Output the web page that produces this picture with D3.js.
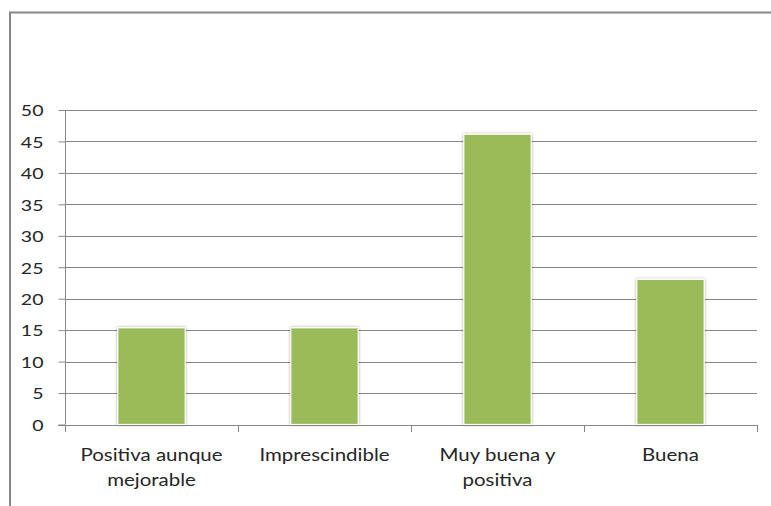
<!DOCTYPE html>
<html>
<head>
<meta charset="utf-8">
<script src="https://cdn.jsdelivr.net/npm/d3@7/dist/d3.min.js"></script>
<style>
  html, body { margin: 0; padding: 0; background: #fff; }
  svg { display: block; }
  text { font-family: Lato, "Open Sans", sans-serif; fill: #262626; }
</style>
</head>
<body>
<svg id="chart" width="771" height="506"></svg>
<script>
// Opinion categories (two-line labels split on "|") and their percentages
const categories = ["Positiva aunque|mejorable", "Imprescindible", "Muy buena y|positiva", "Buena"];
const values = [15.38, 15.38, 46.15, 23.08];
const yTicks = [0, 5, 10, 15, 20, 25, 30, 35, 40, 45, 50];

const svg = d3.select("#chart");
const W = 771, H = 506;
const plot = { left: 65, right: 757, top: 110, bottom: 424.5 };
const stretch = 1.17; // wide-set lettering

// Outer chart frame (runs off the right and bottom edges)
svg.append("rect")
  .attr("x", 10).attr("y", 12.5)
  .attr("width", W + 20).attr("height", H + 20)
  .attr("fill", "#fff")
  .attr("stroke", "#878787").attr("stroke-width", 2);

const defs = svg.append("defs");
const f = defs.append("filter").attr("id", "barShadow")
  .attr("x", "-20%").attr("y", "-10%").attr("width", "140%").attr("height", "120%");
f.append("feGaussianBlur").attr("in", "SourceAlpha").attr("stdDeviation", 1.6).attr("result", "b");
f.append("feComponentTransfer").attr("in", "b").attr("result", "s")
  .append("feFuncA").attr("type", "linear").attr("slope", 0.35);
const m = f.append("feMerge");
m.append("feMergeNode").attr("in", "s");
m.append("feMergeNode").attr("in", "SourceGraphic");

const x = d3.scaleBand()
  .domain(categories)
  .range([plot.left, plot.right])
  .paddingInner(0.61).paddingOuter(0.305);

const y = d3.scaleLinear().domain([0, 50]).range([plot.bottom, plot.top]);

// Horizontal gridlines
svg.append("g").selectAll("line").data(yTicks.filter(d => d > 0)).join("line")
  .attr("x1", plot.left).attr("x2", plot.right)
  .attr("y1", d => Math.round(y(d)) + 0.5).attr("y2", d => Math.round(y(d)) + 0.5)
  .attr("stroke", "#868686").attr("stroke-width", 1);

// Y axis
const yAxis = svg.append("g")
  .attr("transform", `translate(${plot.left + 0.5},0)`)
  .call(d3.axisLeft(y).tickValues(yTicks).tickSize(7).tickFormat(d3.format("d")));
yAxis.select(".domain").attr("stroke", "#868686").attr("d", `M0,${plot.top}V${plot.bottom}`);
yAxis.selectAll(".tick line").attr("stroke", "#868686");
yAxis.selectAll(".tick text")
  .attr("x", 0).attr("dy", "0.36em")
  .attr("transform", `translate(-22,0) scale(${stretch + 0.05},1)`)
  .attr("font-size", 16).attr("fill", "#262626")
  .attr("font-family", "Lato, 'Open Sans', sans-serif");

// Bars
svg.append("g").selectAll("rect").data(values).join("rect")
  .attr("x", (d, i) => x(categories[i]))
  .attr("width", x.bandwidth())
  .attr("y", d => y(d))
  .attr("height", d => y(0) - y(d))
  .attr("fill", "#9BBB59")
  .attr("stroke", "#fff").attr("stroke-width", 1.2)
  .attr("filter", "url(#barShadow)");

// X axis line with category boundary ticks
const bounds = [0, 1, 2, 3, 4].map(i => plot.left + i * x.step());
const xAxis = svg.append("g");
xAxis.append("line")
  .attr("x1", plot.left - 7).attr("x2", plot.right)
  .attr("y1", Math.round(y(0)) + 0.5).attr("y2", Math.round(y(0)) + 0.5)
  .attr("stroke", "#868686");
xAxis.selectAll("line.b").data(bounds).join("line").attr("class", "b")
  .attr("x1", d => Math.round(d) + 0.5).attr("x2", d => Math.round(d) + 0.5)
  .attr("y1", Math.round(y(0))).attr("y2", Math.round(y(0)) + 7)
  .attr("stroke", "#868686");

// Category labels
const labels = svg.append("g").selectAll("text").data(categories).join("text")
  .attr("transform", d => `translate(${x(d) + x.bandwidth() / 2},461) scale(${stretch},1)`)
  .attr("text-anchor", "middle")
  .attr("font-size", 17.5);
labels.selectAll("tspan").data(d => d.split("|")).join("tspan")
  .attr("x", 0)
  .attr("dy", (d, i) => i === 0 ? 0 : 25)
  .text(d => d);
</script>
</body>
</html>
